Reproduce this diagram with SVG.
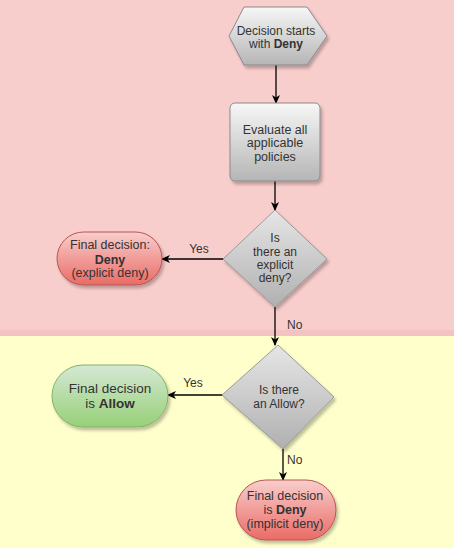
<svg xmlns="http://www.w3.org/2000/svg" width="454" height="548" viewBox="0 0 454 548">
<defs>
<linearGradient id="gGray" x1="0" y1="0" x2="0" y2="1"><stop offset="0" stop-color="#f7f7f7"/><stop offset="1" stop-color="#b5b5b5"/></linearGradient>
<linearGradient id="gDia" x1="0" y1="0" x2="0" y2="1"><stop offset="0" stop-color="#e6e6e6"/><stop offset="1" stop-color="#b0b0b0"/></linearGradient>
<linearGradient id="gRed" x1="0" y1="0" x2="0" y2="1"><stop offset="0" stop-color="#f8cecc"/><stop offset="1" stop-color="#ea6b66"/></linearGradient>
<linearGradient id="gGreen" x1="0" y1="0" x2="0" y2="1"><stop offset="0" stop-color="#d5e8d4"/><stop offset="1" stop-color="#97d077"/></linearGradient>
<filter id="sh" x="-20%" y="-20%" width="150%" height="150%"><feDropShadow dx="2" dy="3" stdDeviation="1.5" flood-color="#000" flood-opacity="0.25"/></filter>
<marker id="arr" markerWidth="10" markerHeight="10" refX="8" refY="5" orient="auto" markerUnits="userSpaceOnUse"><path d="M0,1 L9,5 L0,9 L2.5,5 Z" fill="#000"/></marker>
<style>
text{font-family:"Liberation Sans",Arial,sans-serif;fill:#333;text-anchor:middle;font-size:12px}
.b{font-weight:bold}
.gray{fill:url(#gGray);stroke:#8a8a8a;stroke-width:1;filter:url(#sh)}
.dia{fill:url(#gDia);stroke:#9a9a9a;stroke-width:1;filter:url(#sh)}
.red{fill:url(#gRed);stroke:#b85450;stroke-width:1;filter:url(#sh)}
.green{fill:url(#gGreen);stroke:#82b366;stroke-width:1;filter:url(#sh)}
.edge{stroke:#000;stroke-width:1.3;fill:none;marker-end:url(#arr)}
</style>
</defs>
<rect x="0" y="0" width="454" height="336" fill="#f8cecc"/>
<rect x="0" y="330" width="454" height="6" fill="#f4c2c0"/>
<rect x="0" y="336" width="454" height="212" fill="#ffffcc"/>

<g id="connectors">
<line class="edge" x1="276" y1="65" x2="276" y2="103"/>
<line class="edge" x1="275" y1="181" x2="275" y2="210"/>
<line class="edge" x1="223" y1="259" x2="162" y2="259"/>
<line class="edge" x1="275" y1="307" x2="275" y2="345"/>
<line class="edge" x1="222" y1="395" x2="168" y2="395"/>
<line class="edge" x1="283" y1="449" x2="283" y2="480"/>
<text x="199" y="253">Yes</text>
<text x="287" y="329" style="text-anchor:start">No</text>
<text x="193" y="387">Yes</text>
<text x="287" y="464" style="text-anchor:start">No</text>
</g>

<g id="start">
<polygon class="gray" points="244,7 307,7 327,36 307,65 244,65 229,36"/>
<text x="276" y="35">Decision starts</text>
<text x="276" y="48">with <tspan class="b">Deny</tspan></text>
</g>

<g id="evaluate">
<rect class="gray" x="230" y="103" width="90" height="78" rx="5"/>
<text x="275" y="134" style="font-size:12.5px">Evaluate all</text>
<text x="275" y="147" style="font-size:12.5px">applicable</text>
<text x="275" y="161" style="font-size:12.5px">policies</text>
</g>

<g id="explicit-deny">
<polygon class="dia" points="275,210 327,259 275,307 223,259"/>
<text x="275" y="242">Is</text>
<text x="275" y="256">there an</text>
<text x="275" y="269">explicit</text>
<text x="275" y="282">deny?</text>
</g>

<g id="final-deny-explicit">
<rect class="red" x="57" y="232" width="105" height="53" rx="26.5"/>
<text x="110" y="249" style="font-size:12.5px">Final decision:</text>
<text x="110" y="264" class="b" style="font-size:12.5px">Deny</text>
<text x="110" y="277" style="font-size:12.5px">(explicit deny)</text>
</g>

<g id="allow-check">
<polygon class="dia" points="278,345 334,397 283,449 222,395"/>
<text x="279" y="394">Is there</text>
<text x="279" y="408">an Allow?</text>
</g>

<g id="final-allow">
<rect class="green" x="52" y="365" width="116" height="62" rx="31"/>
<text x="110" y="393" style="font-size:13.5px">Final decision</text>
<text x="110" y="408" style="font-size:13.5px">is <tspan class="b">Allow</tspan></text>
</g>

<g id="final-deny-implicit">
<rect class="red" x="236" y="480" width="100" height="60" rx="30"/>
<text x="285" y="500" style="font-size:12.5px">Final decision</text>
<text x="285" y="514" style="font-size:12.5px">is <tspan class="b">Deny</tspan></text>
<text x="285" y="528" style="font-size:12.5px">(implicit deny)</text>
</g>
</svg>
